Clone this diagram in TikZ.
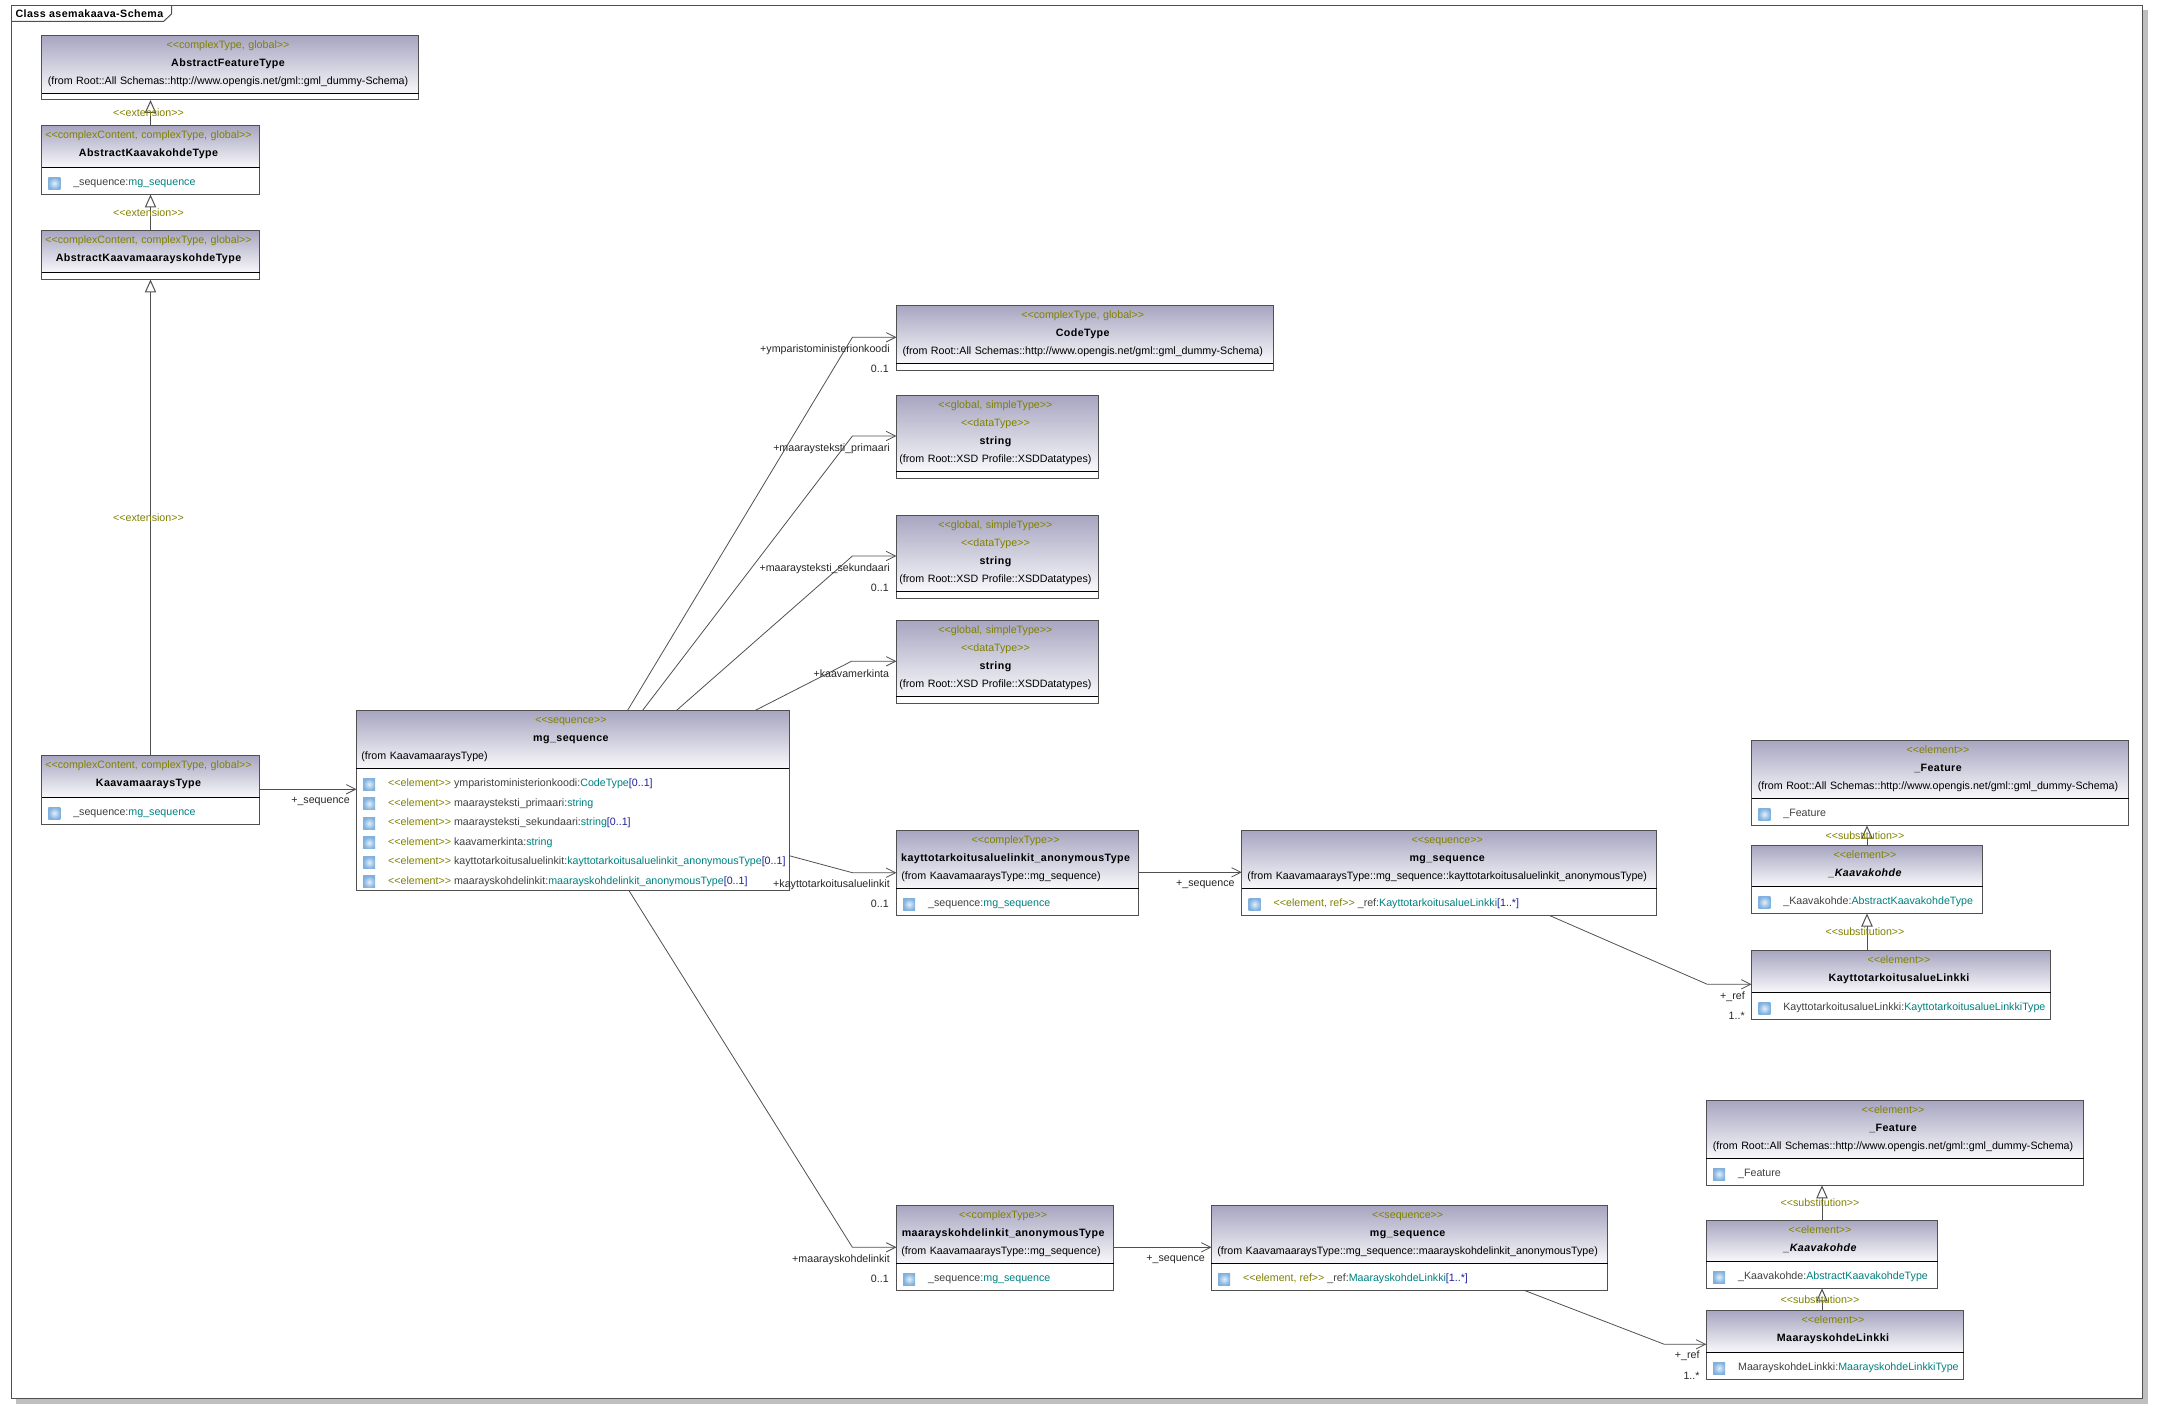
\documentclass[tikz,border=0pt]{standalone}
\usepackage{fontspec}
\usepackage{xcolor}
\usepackage{tikz}
\usetikzlibrary{arrows.meta, positioning}
\newfontfamily\umlfont{Liberation Sans}
\newfontfamily\umlbold[LetterSpace=4]{Liberation Sans}
\newlength{\pxu}
\setlength{\pxu}{0.75pt}
\definecolor{umlline}{HTML}{505050}
\definecolor{umlolive}{HTML}{808000}
\definecolor{umlteal}{HTML}{008080}
\definecolor{umlblue}{HTML}{2020A0}
\definecolor{umlname}{HTML}{404040}
\definecolor{headtop}{HTML}{A7A5C0}
\definecolor{headbot}{HTML}{F8F8FB}
\definecolor{umlicon}{HTML}{7FB0DE}
\definecolor{iconmid}{HTML}{E4EFF9}
\newcommand{\stereo}[1]{\textcolor{umlolive}{#1}}
\newcommand{\typ}[1]{\textcolor{umlteal}{#1}}
\newcommand{\mult}[1]{\textcolor{umlblue}{#1}}
\newcommand{\ttl}[1]{{\umlbold\bfseries #1}}
\newcommand{\flushl}[1]{\makebox[\linewidth][l]{\hskip 4\pxu\relax #1}}
\tikzset{
  umltext/.style={font=\umlfont\fontsize{8}{13.5}\selectfont},
  classhead/.style 2 args={umltext, anchor=north west, rectangle, draw=umlline, line width=0.75pt, top color=headtop, bottom color=headbot, outer sep=0pt, inner ysep=0pt, inner xsep=1\pxu, text width=(#1-2)*\pxu, minimum width=#1\pxu, minimum height=#2\pxu, text height=13\pxu, text depth=(#2-13)*\pxu, align=center, execute at begin node={\rightskip=4\pxu plus 2em\relax\emergencystretch=0pt\hyphenpenalty=10000\relax}},
  classbody/.style 2 args={rectangle, draw=umlline, line width=0.75pt, fill=white, outer sep=0pt, inner sep=0pt, minimum width=#1\pxu, minimum height=#2\pxu, append after command={(\tikzlastnode.north west) edge[sepline] (\tikzlastnode.north east)}},
  sepline/.style={black, line width=0.75pt},
  attricon/.style={rectangle, inner color=iconmid, outer color=umlicon, inner sep=0pt, minimum width=12\pxu, minimum height=12\pxu},
  attrtext/.style={umltext, text=umlname, inner sep=0pt, text height=7\pxu, text depth=2\pxu},
  rolelab/.style={umltext, text=black!85, inner sep=0pt, anchor=east},
  stereolab/.style={umltext, text=umlolive, inner sep=0pt},
  assoc/.style={umlline, line width=0.6pt, -{Straight Barb[length=7pt,width=7pt]}},
  extends/.style={umlline, line width=0.75pt, -{Triangle[open,length=9.75pt,width=8.5pt]}}
}
\begin{document}
\begin{tikzpicture}[x=0.75pt, y=-0.75pt]
  \useasboundingbox (0,0) rectangle (2169,1419);
  \fill[black!25] (2142.7,10) rectangle (2148.3,1403.7);
  \fill[black!25] (16,1398.3) rectangle (2148.3,1403.7);
  \draw[umlline, line width=0.75pt] (11.5,5.5) rectangle (2142.7,1398.3);
  \draw[umlline, line width=0.75pt] (11.5,21.5) -- (163.5,21.5) -- (171.5,14) -- (171.5,5.5);
  \node[umltext, anchor=west, inner sep=0pt] (frametitle) at (15.3,13.2) {\ttl{Class asemakaava-Schema}};

  \node[classhead={377}{58}] (afh) at (41.5,35.5) {\stereo{<<complexType, global>>}\\\ttl{AbstractFeatureType}\\(from Root::All Schemas::http://www.opengis.net/gml::gml\_dummy-Schema)};
  \node[classbody={377}{6.5}, below=0pt of afh] (afb) {};
  \node[classhead={218}{42}, below right=25.5\pxu and 0pt of afb.south west] (akh) {\stereo{<<complexContent, complexType, global>>}\\\ttl{AbstractKaavakohdeType}};
  \node[classbody={218}{27}, below=0pt of akh] (akb) {};
  \node[attricon, below right=9.5\pxu and 6.5\pxu of akb.north west] (aki) {};
  \node[attrtext, right=12.5\pxu of aki] (akt) {\_sequence:\typ{mg\_sequence}};
  \node[classhead={218}{42}, below right=36\pxu and 0pt of akb.south west] (amh) {\stereo{<<complexContent, complexType, global>>}\\\ttl{AbstractKaavamaarayskohdeType}};
  \node[classbody={218}{7}, below=0pt of amh] (amb) {};
  \node[classhead={218}{42}, below right=475.8\pxu and 0pt of amb.south west] (kth) {\stereo{<<complexContent, complexType, global>>}\\\ttl{KaavamaaraysType}};
  \node[classbody={218}{27}, below=0pt of kth] (ktb) {};
  \node[attricon, below right=9.5\pxu and 6.5\pxu of ktb.north west] (kti) {};
  \node[attrtext, right=12.5\pxu of kti] (ktt) {\_sequence:\typ{mg\_sequence}};

  \node[classhead={433}{58}] (mgh) at (356.4,710.5) {\stereo{<<sequence>>}\\\ttl{mg\_sequence}\\\flushl{(from KaavamaaraysType)}};
  \node[classbody={433}{121.5}, below=0pt of mgh] (mgb) {};
  \node[attricon, below right=9.5\pxu and 6.5\pxu of mgb.north west] (mgi1) {};
  \node[attricon, below=7\pxu of mgi1] (mgi2) {};
  \node[attricon, below=7\pxu of mgi2] (mgi3) {};
  \node[attricon, below=7\pxu of mgi3] (mgi4) {};
  \node[attricon, below=7\pxu of mgi4] (mgi5) {};
  \node[attricon, below=7\pxu of mgi5] (mgi6) {};
  \node[attrtext, right=12.5\pxu of mgi1] (mgt1) {\stereo{<<element>>} ymparistoministerionkoodi:\typ{CodeType}\mult{[0..1]}};
  \node[attrtext, right=12.5\pxu of mgi2] (mgt2) {\stereo{<<element>>} maaraysteksti\_primaari:\typ{string}};
  \node[attrtext, right=12.5\pxu of mgi3] (mgt3) {\stereo{<<element>>} maaraysteksti\_sekundaari:\typ{string}\mult{[0..1]}};
  \node[attrtext, right=12.5\pxu of mgi4] (mgt4) {\stereo{<<element>>} kaavamerkinta:\typ{string}};
  \node[attrtext, right=12.5\pxu of mgi5] (mgt5) {\stereo{<<element>>} kayttotarkoitusaluelinkit:\typ{kayttotarkoitusaluelinkit\_anonymousType}\mult{[0..1]}};
  \node[attrtext, right=12.5\pxu of mgi6] (mgt6) {\stereo{<<element>>} maarayskohdelinkit:\typ{maarayskohdelinkit\_anonymousType}\mult{[0..1]}};

  \node[classhead={376.6}{58}] (codeh) at (896.4,305.3) {\stereo{<<complexType, global>>}\\\ttl{CodeType}\\(from Root::All Schemas::http://www.opengis.net/gml::gml\_dummy-Schema)};
  \node[classbody={376.6}{7}, below=0pt of codeh] (codeb) {};
  \node[classhead={202}{76}, below right=25\pxu and 0pt of codeb.south west] (sth) {\stereo{<<global, simpleType>>}\\\stereo{<<dataType>>}\\\ttl{string}\\(from Root::XSD Profile::XSDDatatypes)};
  \node[classbody={202}{7}, below=0pt of sth] (stb) {};
  \node[classhead={202}{76}, below right=37\pxu and 0pt of stb.south west] (suh) {\stereo{<<global, simpleType>>}\\\stereo{<<dataType>>}\\\ttl{string}\\(from Root::XSD Profile::XSDDatatypes)};
  \node[classbody={202}{7}, below=0pt of suh] (sub) {};
  \node[classhead={202}{76}, below right=22\pxu and 0pt of sub.south west] (svh) {\stereo{<<global, simpleType>>}\\\stereo{<<dataType>>}\\\ttl{string}\\(from Root::XSD Profile::XSDDatatypes)};
  \node[classbody={202}{7}, below=0pt of svh] (svb) {};

  \node[classhead={242.4}{58}, below right=127.2\pxu and 0pt of svb.south west] (kah) {\stereo{<<complexType>>}\\\ttl{kayttotarkoitusaluelinkit\_anonymousType}\\\flushl{(from KaavamaaraysType::mg\_sequence)}};
  \node[classbody={242.4}{27}, below=0pt of kah] (kab) {};
  \node[attricon, below right=9.5\pxu and 6.5\pxu of kab.north west] (kai) {};
  \node[attrtext, right=12.5\pxu of kai] (kat) {\_sequence:\typ{mg\_sequence}};
  \node[classhead={414.8}{58}] (ksh) at ([xshift=103\pxu]kah.north east) {\stereo{<<sequence>>}\\\ttl{mg\_sequence}\\(from KaavamaaraysType::mg\_sequence::kayttotarkoitusaluelinkit\_anonymousType)};
  \node[classbody={414.8}{27}, below=0pt of ksh] (ksb) {};
  \node[attricon, below right=9.5\pxu and 6.5\pxu of ksb.north west] (ksi) {};
  \node[attrtext, right=12.5\pxu of ksi] (kst) {\stereo{<<element, ref>>} \_ref:\typ{KayttotarkoitusalueLinkki}\mult{[1..*]}};

  \node[classhead={217.4}{58}, below right=289.8\pxu and 0pt of kab.south west] (mah) {\stereo{<<complexType>>}\\\ttl{maarayskohdelinkit\_anonymousType}\\\flushl{(from KaavamaaraysType::mg\_sequence)}};
  \node[classbody={217.4}{27}, below=0pt of mah] (mab) {};
  \node[attricon, below right=9.5\pxu and 6.5\pxu of mab.north west] (mai) {};
  \node[attrtext, right=12.5\pxu of mai] (mat) {\_sequence:\typ{mg\_sequence}};
  \node[classhead={396.4}{58}] (msh) at ([xshift=97.6\pxu]mah.north east) {\stereo{<<sequence>>}\\\ttl{mg\_sequence}\\(from KaavamaaraysType::mg\_sequence::maarayskohdelinkit\_anonymousType)};
  \node[classbody={396.4}{27}, below=0pt of msh] (msb) {};
  \node[attricon, below right=9.5\pxu and 6.5\pxu of msb.north west] (msi) {};
  \node[attrtext, right=12.5\pxu of msi] (mst) {\stereo{<<element, ref>>} \_ref:\typ{MaarayskohdeLinkki}\mult{[1..*]}};

  \node[classhead={377}{58}] (fah) at (1751.5,740.5) {\stereo{<<element>>}\\\ttl{\_Feature}\\(from Root::All Schemas::http://www.opengis.net/gml::gml\_dummy-Schema)};
  \node[classbody={377}{27}, below=0pt of fah] (fab) {};
  \node[attricon, below right=9.5\pxu and 6.5\pxu of fab.north west] (fai) {};
  \node[attrtext, right=12.5\pxu of fai] (fat) {\_Feature};
  \node[classhead={231}{41}, below right=20\pxu and 0pt of fab.south west] (kkh) {\stereo{<<element>>}\\\ttl{\itshape\_Kaavakohde}};
  \node[classbody={231}{27}, below=0pt of kkh] (kkb) {};
  \node[attricon, below right=9.5\pxu and 6.5\pxu of kkb.north west] (kki) {};
  \node[attrtext, right=12.5\pxu of kki] (kkt) {\_Kaavakohde:\typ{AbstractKaavakohdeType}};
  \node[classhead={299}{42}, below right=37\pxu and 0pt of kkb.south west] (klh) {\stereo{<<element>>}\\\ttl{KayttotarkoitusalueLinkki}};
  \node[classbody={299}{27}, below=0pt of klh] (klb) {};
  \node[attricon, below right=9.5\pxu and 6.5\pxu of klb.north west] (kli) {};
  \node[attrtext, right=12.5\pxu of kli] (klt) {KayttotarkoitusalueLinkki:\typ{KayttotarkoitusalueLinkkiType}};

  \node[classhead={377.4}{58}] (fbh) at (1706.3,1100.3) {\stereo{<<element>>}\\\ttl{\_Feature}\\(from Root::All Schemas::http://www.opengis.net/gml::gml\_dummy-Schema)};
  \node[classbody={377.4}{27}, below=0pt of fbh] (fbb) {};
  \node[attricon, below right=9.5\pxu and 6.5\pxu of fbb.north west] (fbi) {};
  \node[attrtext, right=12.5\pxu of fbi] (fbt) {\_Feature};
  \node[classhead={231.4}{41}, below right=35\pxu and 0pt of fbb.south west] (kmh) {\stereo{<<element>>}\\\ttl{\itshape\_Kaavakohde}};
  \node[classbody={231.4}{27}, below=0pt of kmh] (kmb) {};
  \node[attricon, below right=9.5\pxu and 6.5\pxu of kmb.north west] (kmi) {};
  \node[attrtext, right=12.5\pxu of kmi] (kmt) {\_Kaavakohde:\typ{AbstractKaavakohdeType}};
  \node[classhead={257.4}{42}, below right=22\pxu and 0pt of kmb.south west] (mlh) {\stereo{<<element>>}\\\ttl{MaarayskohdeLinkki}};
  \node[classbody={257.4}{27}, below=0pt of mlh] (mlb) {};
  \node[attricon, below right=9.5\pxu and 6.5\pxu of mlb.north west] (mli) {};
  \node[attrtext, right=12.5\pxu of mli] (mlt) {MaarayskohdeLinkki:\typ{MaarayskohdeLinkkiType}};

  \draw[extends] (akh.north) -- (akh.north |- afb.south) node[stereolab, midway, xshift=-2\pxu] (ext1) {<<extension>>};
  \draw[extends] (amh.north) -- (akb.south) node[stereolab, midway, xshift=-2\pxu] (ext2) {<<extension>>};
  \draw[extends] (kth.north) -- (amb.south) node[stereolab, midway, xshift=-2\pxu] (ext3) {<<extension>>};
  \draw[extends] (kkh.north) -- (kkh.north |- fab.south) node[stereolab, midway, xshift=-2\pxu] (sub1) {<<substitution>>};
  \draw[extends] (kkh.north |- klh.north) -- (kkb.south) node[stereolab, midway, xshift=-2\pxu] (sub2) {<<substitution>>};
  \draw[extends] (kmh.north) -- (kmh.north |- fbb.south) node[stereolab, midway, xshift=-2\pxu] (sub3) {<<substitution>>};
  \draw[extends] (kmh.north |- mlh.north) -- (kmb.south) node[stereolab, midway, xshift=-2\pxu] (sub4) {<<substitution>>};

  \draw[assoc] ([yshift=-13\pxu]kth.east) -- ([yshift=-13\pxu]kth.east -| mgb.west);
  \draw[assoc] ([xshift=271.1\pxu]mgh.north west) -- ([xshift=-44\pxu,yshift=-3\pxu]codeh.west) -- ([yshift=-3\pxu]codeh.west);
  \draw[assoc] ([xshift=286.1\pxu]mgh.north west) -- ([xshift=-44\pxu,yshift=-2.7\pxu]sth.west) -- ([yshift=-2.7\pxu]sth.west);
  \draw[assoc] ([xshift=320\pxu]mgh.north west) -- ([xshift=-44\pxu,yshift=-2.7\pxu]suh.west) -- ([yshift=-2.7\pxu]suh.west);
  \draw[assoc] ([xshift=398.6\pxu]mgh.north west) -- ([xshift=-45\pxu,yshift=-3\pxu]svh.west) -- ([yshift=-3\pxu]svh.west);
  \draw[assoc] ([yshift=-26.5\pxu]mgb.east) -- ([xshift=-44\pxu,yshift=-13.2\pxu]kah.west) -- ([yshift=-13.2\pxu]kah.west);
  \draw[assoc] ([xshift=272.2\pxu]mgb.south west) -- ([xshift=-44\pxu,yshift=-13\pxu]mah.west) -- ([yshift=-13\pxu]mah.west);
  \draw[assoc] ([yshift=-12.8\pxu]kah.east) -- ([yshift=-12.8\pxu]ksh.west);
  \draw[assoc] ([yshift=-13\pxu]mah.east) -- ([yshift=-13\pxu]msh.west);
  \draw[assoc] ([xshift=307.7\pxu]ksb.south west) -- ([xshift=-44.2\pxu,yshift=-12.8\pxu]klh.west) -- ([yshift=-12.8\pxu]klh.west);
  \draw[assoc] ([xshift=312.7\pxu]msb.south west) -- ([xshift=-42\pxu,yshift=-13\pxu]mlh.west) -- ([yshift=-13\pxu]mlh.west);

  \node[rolelab, left=6.4\pxu of mgh.west, yshift=-61.8\pxu] (rseq) {+\_sequence};
  \node[rolelab, left=6.4\pxu of codeh.west, yshift=-15\pxu] (rcode) {+ymparistoministerionkoodi};
  \node[rolelab, left=7.4\pxu of codeh.west, yshift=-35\pxu] (mcode) {0..1};
  \node[rolelab, left=6.4\pxu of sth.west, yshift=-15\pxu] (rprim) {+maaraysteksti\_primaari};
  \node[rolelab, left=6.4\pxu of suh.west, yshift=-15\pxu] (rsek) {+maaraysteksti\_sekundaari};
  \node[rolelab, left=7.4\pxu of suh.west, yshift=-35\pxu] (msek) {0..1};
  \node[rolelab, left=7\pxu of svh.west, yshift=-15\pxu] (rmerk) {+kaavamerkinta};
  \node[rolelab, left=6.4\pxu of kah.west, yshift=-24.8\pxu] (rkay) {+kayttotarkoitusaluelinkit};
  \node[rolelab, left=7.4\pxu of kah.west, yshift=-44.8\pxu] (mkay) {0..1};
  \node[rolelab, left=6.4\pxu of mah.west, yshift=-25\pxu] (rmaa) {+maarayskohdelinkit};
  \node[rolelab, left=7.4\pxu of mah.west, yshift=-45\pxu] (mmaa) {0..1};
  \node[rolelab, left=7\pxu of ksh.west, yshift=-24.8\pxu] (rks) {+\_sequence};
  \node[rolelab, left=6.3\pxu of msh.west, yshift=-25\pxu] (rms) {+\_sequence};
  \node[rolelab, left=6.5\pxu of klh.west, yshift=-24.8\pxu] (rkl) {+\_ref};
  \node[rolelab, left=6.5\pxu of klh.west, yshift=-44.5\pxu] (mkl) {1..*};
  \node[rolelab, left=6.5\pxu of mlh.west, yshift=-24.8\pxu] (rml) {+\_ref};
  \node[rolelab, left=6.5\pxu of mlh.west, yshift=-44.5\pxu] (mml) {1..*};
\end{tikzpicture}
\end{document}
